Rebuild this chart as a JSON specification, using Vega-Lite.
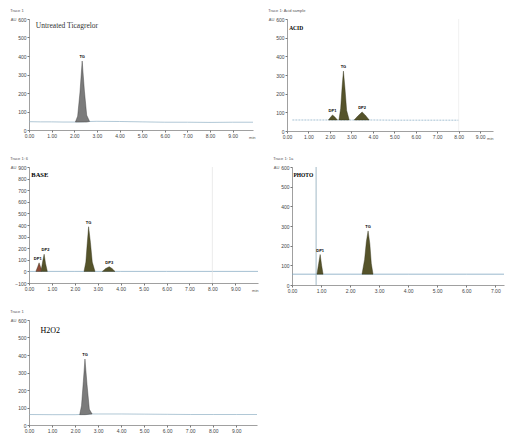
{
  "$schema": "https://vega.github.io/schema/vega-lite/v6.json",
  "background": "white",
  "padding": {"left": 10, "top": 9, "right": 2, "bottom": 0},
  "spacing": 17,
  "config": {
    "view": {"stroke": null},
    "axis": {"labelFontSize": 5, "labelColor": "#444", "domainColor": "#777", "tickColor": "#777", "tickSize": 2, "labelPadding": 1, "titleFontSize": 4, "titleColor": "#555", "grid": false, "domainWidth": 0.7, "titleFontWeight": "normal", "labelFont": "Liberation Sans", "titleFont": "Liberation Sans", "labelOverlap": false, "labelFlush": false, "labelBound": false, "labelSeparation": 0},
    "axisX": {"titleAlign": "right", "titleBaseline": "top", "titleY": 5},
    "title": {"fontSize": 4, "anchor": "start", "color": "#555", "offset": 4, "font": "Liberation Sans", "fontWeight": "normal"}
  },
  "datasets": {
    "tr": [
      {"p": "A", "t": 0, "y": 45}, {"p": "A", "t": 0.5, "y": 44}, {"p": "A", "t": 1, "y": 44}, {"p": "A", "t": 1.5, "y": 43}, {"p": "A", "t": 2.05, "y": 43}, {"p": "A", "t": 2.68, "y": 46}, {"p": "A", "t": 3, "y": 47}, {"p": "A", "t": 4, "y": 46}, {"p": "A", "t": 5, "y": 44}, {"p": "A", "t": 6, "y": 42}, {"p": "A", "t": 7, "y": 42}, {"p": "A", "t": 8, "y": 41}, {"p": "A", "t": 9, "y": 42}, {"p": "A", "t": 9.9, "y": 42},
      {"p": "B", "t": 0.25, "y": 59}, {"p": "B", "t": 1, "y": 59}, {"p": "B", "t": 2, "y": 59}, {"p": "B", "t": 3, "y": 59}, {"p": "B", "t": 4, "y": 59}, {"p": "B", "t": 5, "y": 58}, {"p": "B", "t": 6, "y": 58}, {"p": "B", "t": 7, "y": 58}, {"p": "B", "t": 8, "y": 58},
      {"p": "C", "t": 0, "y": 0}, {"p": "C", "t": 2, "y": 0}, {"p": "C", "t": 4, "y": 0}, {"p": "C", "t": 6, "y": 0}, {"p": "C", "t": 8, "y": 0}, {"p": "C", "t": 9.99, "y": 0},
      {"p": "D", "t": 0, "y": 55}, {"p": "D", "t": 2, "y": 55}, {"p": "D", "t": 4, "y": 55}, {"p": "D", "t": 6, "y": 55}, {"p": "D", "t": 7.3, "y": 55},
      {"p": "E", "t": 0, "y": 60}, {"p": "E", "t": 1, "y": 59}, {"p": "E", "t": 2, "y": 59}, {"p": "E", "t": 2.74, "y": 63}, {"p": "E", "t": 3, "y": 63}, {"p": "E", "t": 4, "y": 63}, {"p": "E", "t": 5, "y": 62}, {"p": "E", "t": 6, "y": 61}, {"p": "E", "t": 7, "y": 60}, {"p": "E", "t": 8, "y": 60}, {"p": "E", "t": 9, "y": 60}, {"p": "E", "t": 9.9, "y": 60}
    ],
    "pk": [
      {"p": "A", "k": "TG", "t": 2.05, "y": 43, "b": 43}, {"p": "A", "k": "TG", "t": 2.15, "y": 75, "b": 43}, {"p": "A", "k": "TG", "t": 2.25, "y": 200, "b": 43}, {"p": "A", "k": "TG", "t": 2.35, "y": 373, "b": 43}, {"p": "A", "k": "TG", "t": 2.45, "y": 210, "b": 43}, {"p": "A", "k": "TG", "t": 2.55, "y": 80, "b": 43}, {"p": "A", "k": "TG", "t": 2.68, "y": 46, "b": 46},
      {"p": "B", "k": "DP1", "t": 1.93, "y": 59, "b": 59}, {"p": "B", "k": "DP1", "t": 2.02, "y": 72, "b": 59}, {"p": "B", "k": "DP1", "t": 2.12, "y": 86, "b": 59}, {"p": "B", "k": "DP1", "t": 2.22, "y": 76, "b": 59}, {"p": "B", "k": "DP1", "t": 2.35, "y": 59, "b": 59},
      {"p": "B", "k": "TG", "t": 2.42, "y": 59, "b": 59}, {"p": "B", "k": "TG", "t": 2.5, "y": 120, "b": 59}, {"p": "B", "k": "TG", "t": 2.57, "y": 240, "b": 59}, {"p": "B", "k": "TG", "t": 2.63, "y": 321, "b": 59}, {"p": "B", "k": "TG", "t": 2.7, "y": 230, "b": 59}, {"p": "B", "k": "TG", "t": 2.78, "y": 110, "b": 59}, {"p": "B", "k": "TG", "t": 2.9, "y": 59, "b": 59},
      {"p": "B", "k": "DP2", "t": 3.13, "y": 59, "b": 59}, {"p": "B", "k": "DP2", "t": 3.3, "y": 80, "b": 59}, {"p": "B", "k": "DP2", "t": 3.5, "y": 102, "b": 59}, {"p": "B", "k": "DP2", "t": 3.65, "y": 85, "b": 59}, {"p": "B", "k": "DP2", "t": 3.83, "y": 59, "b": 59},
      {"p": "C", "k": "DP1", "t": 0.3, "y": 0, "b": 0}, {"p": "C", "k": "DP1", "t": 0.38, "y": 40, "b": 0}, {"p": "C", "k": "DP1", "t": 0.44, "y": 74, "b": 0}, {"p": "C", "k": "DP1", "t": 0.5, "y": 40, "b": 0}, {"p": "C", "k": "DP1", "t": 0.54, "y": 20, "b": 0},
      {"p": "C", "k": "DP2", "t": 0.54, "y": 20, "b": 0}, {"p": "C", "k": "DP2", "t": 0.6, "y": 90, "b": 0}, {"p": "C", "k": "DP2", "t": 0.66, "y": 148, "b": 0}, {"p": "C", "k": "DP2", "t": 0.72, "y": 70, "b": 0}, {"p": "C", "k": "DP2", "t": 0.8, "y": 0, "b": 0},
      {"p": "C", "k": "TG", "t": 2.4, "y": 0, "b": 0}, {"p": "C", "k": "TG", "t": 2.48, "y": 80, "b": 0}, {"p": "C", "k": "TG", "t": 2.54, "y": 240, "b": 0}, {"p": "C", "k": "TG", "t": 2.6, "y": 385, "b": 0}, {"p": "C", "k": "TG", "t": 2.68, "y": 250, "b": 0}, {"p": "C", "k": "TG", "t": 2.76, "y": 80, "b": 0}, {"p": "C", "k": "TG", "t": 2.88, "y": 0, "b": 0},
      {"p": "C", "k": "DP3", "t": 3.2, "y": 0, "b": 0}, {"p": "C", "k": "DP3", "t": 3.35, "y": 25, "b": 0}, {"p": "C", "k": "DP3", "t": 3.5, "y": 41, "b": 0}, {"p": "C", "k": "DP3", "t": 3.62, "y": 25, "b": 0}, {"p": "C", "k": "DP3", "t": 3.75, "y": 0, "b": 0},
      {"p": "D", "k": "DP1", "t": 0.86, "y": 55, "b": 55}, {"p": "D", "k": "DP1", "t": 0.92, "y": 110, "b": 55}, {"p": "D", "k": "DP1", "t": 0.97, "y": 155, "b": 55}, {"p": "D", "k": "DP1", "t": 1.02, "y": 100, "b": 55}, {"p": "D", "k": "DP1", "t": 1.07, "y": 55, "b": 55},
      {"p": "D", "k": "TG", "t": 2.41, "y": 55, "b": 55}, {"p": "D", "k": "TG", "t": 2.5, "y": 130, "b": 55}, {"p": "D", "k": "TG", "t": 2.56, "y": 220, "b": 55}, {"p": "D", "k": "TG", "t": 2.62, "y": 275, "b": 55}, {"p": "D", "k": "TG", "t": 2.68, "y": 210, "b": 55}, {"p": "D", "k": "TG", "t": 2.73, "y": 110, "b": 55}, {"p": "D", "k": "TG", "t": 2.79, "y": 55, "b": 55},
      {"p": "E", "k": "TG", "t": 2.2, "y": 59, "b": 59}, {"p": "E", "k": "TG", "t": 2.28, "y": 110, "b": 59}, {"p": "E", "k": "TG", "t": 2.36, "y": 250, "b": 59}, {"p": "E", "k": "TG", "t": 2.43, "y": 377, "b": 59}, {"p": "E", "k": "TG", "t": 2.52, "y": 230, "b": 60}, {"p": "E", "k": "TG", "t": 2.62, "y": 90, "b": 62}, {"p": "E", "k": "TG", "t": 2.74, "y": 63, "b": 63}
    ],
    "lb": [
      {"p": "A", "k": "TG", "t": 2.35, "y": 373},
      {"p": "B", "k": "DP1", "t": 2.12, "y": 86}, {"p": "B", "k": "TG", "t": 2.63, "y": 321}, {"p": "B", "k": "DP2", "t": 3.5, "y": 102},
      {"p": "C", "k": "DP1", "t": 0.38, "y": 74}, {"p": "C", "k": "DP2", "t": 0.72, "y": 148}, {"p": "C", "k": "TG", "t": 2.6, "y": 385}, {"p": "C", "k": "DP3", "t": 3.5, "y": 41},
      {"p": "D", "k": "DP1", "t": 0.97, "y": 155}, {"p": "D", "k": "TG", "t": 2.62, "y": 275},
      {"p": "E", "k": "TG", "t": 2.43, "y": 377}
    ],
    "nm": [
      {"p": "A", "name": "Untreated Ticagrelor", "t": 0.3, "y": 585},
      {"p": "B", "name": "ACID", "t": 0.1, "y": 560},
      {"p": "C", "name": "BASE", "t": 0.1, "y": 860},
      {"p": "D", "name": "PHOTO", "t": 0.05, "y": 570},
      {"p": "E", "name": "H2O2", "t": 0.5, "y": 560}
    ],
    "vl": [
      {"p": "B", "t": 8.0}, {"p": "C", "t": 8.0}, {"p": "D", "t": 0.83}
    ]
  },
  "vconcat": [
    {
      "spacing": 13,
      "hconcat": [
        {
          "width": 224, "height": 111,
          "title": "Trace 1",
          "layer": [
            {"data": {"name": "tr"}, "transform": [{"filter": "datum.p == 'A'"}], "mark": {"type": "line", "color": "#8fb0c4", "strokeWidth": 0.7},
             "encoding": {
               "x": {"field": "t", "type": "quantitative", "scale": {"domain": [0, 9.9], "nice": false}, "axis": {"tickCount": 10, "format": ".2f", "labelOverlap": false, "title": "min", "titleX": 226}},
               "y": {"field": "y", "type": "quantitative", "scale": {"domain": [0, 600], "nice": false}, "axis": {"tickCount": 6, "labelOverlap": false, "title": "AU", "titleAngle": 0, "titleX": -16, "titleY": 2}}
             }},
            {"data": {"name": "pk"}, "transform": [{"filter": "datum.p == 'A'"}], "mark": {"type": "area", "color": "#7b7b7b", "stroke": "#333", "strokeWidth": 0.4},
             "encoding": {"x": {"field": "t", "type": "quantitative"}, "y": {"field": "y", "type": "quantitative"}, "y2": {"field": "b"}, "detail": {"field": "k"}}},
            {"data": {"name": "lb"}, "transform": [{"filter": "datum.p == 'A'"}], "mark": {"type": "text", "fontSize": 4, "fontWeight": "bold", "dy": -4, "font": "Liberation Sans"},
             "encoding": {"x": {"field": "t", "type": "quantitative"}, "y": {"field": "y", "type": "quantitative"}, "text": {"field": "k"}}},
            {"data": {"name": "nm"}, "transform": [{"filter": "datum.p == 'A'"}], "mark": {"type": "text", "fontSize": 7.5, "font": "Liberation Serif", "align": "left", "baseline": "top", "color": "#333"},
             "encoding": {"x": {"field": "t", "type": "quantitative"}, "y": {"field": "y", "type": "quantitative"}, "text": {"field": "name"}}}
          ]
        },
        {
          "width": 206, "height": 112,
          "title": "Trace 1: Acid sample",
          "layer": [
            {"data": {"name": "tr"}, "transform": [{"filter": "datum.p == 'B'"}], "mark": {"type": "line", "color": "#7fa6c0", "strokeWidth": 0.7, "strokeDash": [2, 1]},
             "encoding": {
               "x": {"field": "t", "type": "quantitative", "scale": {"domain": [0, 9.6], "nice": false}, "axis": {"tickCount": 10, "format": ".2f", "labelOverlap": false, "title": "min", "titleX": 206}},
               "y": {"field": "y", "type": "quantitative", "scale": {"domain": [0, 600], "nice": false}, "axis": {"tickCount": 6, "labelOverlap": false, "title": "AU", "titleAngle": 0, "titleX": -16, "titleY": 2}}
             }},
            {"data": {"name": "vl"}, "transform": [{"filter": "datum.p == 'B'"}], "mark": {"type": "rule", "color": "#e8e8e8", "strokeWidth": 0.6},
             "encoding": {"x": {"field": "t", "type": "quantitative"}}},
            {"data": {"name": "pk"}, "transform": [{"filter": "datum.p == 'B'"}], "mark": {"type": "area", "color": "#55532a", "stroke": "#2e2d15", "strokeWidth": 0.4},
             "encoding": {"x": {"field": "t", "type": "quantitative"}, "y": {"field": "y", "type": "quantitative"}, "y2": {"field": "b"}, "detail": {"field": "k"}}},
            {"data": {"name": "lb"}, "transform": [{"filter": "datum.p == 'B'"}], "mark": {"type": "text", "fontSize": 4, "fontWeight": "bold", "dy": -4, "font": "Liberation Sans"},
             "encoding": {"x": {"field": "t", "type": "quantitative"}, "y": {"field": "y", "type": "quantitative"}, "text": {"field": "k"}}},
            {"data": {"name": "nm"}, "transform": [{"filter": "datum.p == 'B'"}], "mark": {"type": "text", "fontSize": 5.5, "fontWeight": "bold", "font": "Liberation Serif", "align": "left", "baseline": "top"},
             "encoding": {"x": {"field": "t", "type": "quantitative"}, "y": {"field": "y", "type": "quantitative"}, "text": {"field": "name"}}}
          ]
        }
      ]
    },
    {
      "spacing": 13,
      "hconcat": [
        {
          "width": 229, "height": 116,
          "title": "Trace 1: 6",
          "layer": [
            {"data": {"name": "tr"}, "transform": [{"filter": "datum.p == 'C'"}], "mark": {"type": "line", "color": "#7fa6c0", "strokeWidth": 0.7},
             "encoding": {
               "x": {"field": "t", "type": "quantitative", "scale": {"domain": [0, 9.99], "nice": false}, "axis": {"tickCount": 10, "format": ".2f", "labelOverlap": false, "title": "min", "titleX": 229}},
               "y": {"field": "y", "type": "quantitative", "scale": {"domain": [-100, 900], "nice": false}, "axis": {"tickCount": 10, "labelOverlap": false, "title": "AU", "titleAngle": 0, "titleX": -16, "titleY": 2}}
             }},
            {"data": {"name": "vl"}, "transform": [{"filter": "datum.p == 'C'"}], "mark": {"type": "rule", "color": "#dddddd", "strokeWidth": 0.6},
             "encoding": {"x": {"field": "t", "type": "quantitative"}}},
            {"data": {"name": "pk"}, "transform": [{"filter": "datum.p == 'C'"}], "mark": {"type": "area", "stroke": "#2e2d15", "strokeWidth": 0.4, "opacity": 1},
             "encoding": {"x": {"field": "t", "type": "quantitative"}, "y": {"field": "y", "type": "quantitative"}, "y2": {"field": "b"}, "detail": {"field": "k"},
               "color": {"field": "k", "type": "nominal", "scale": {"domain": ["DP1", "DP2", "TG", "DP3"], "range": ["#8d4a36", "#55532a", "#55532a", "#55532a"]}, "legend": null}}},
            {"data": {"name": "lb"}, "transform": [{"filter": "datum.p == 'C'"}], "mark": {"type": "text", "fontSize": 4, "fontWeight": "bold", "dy": -4, "font": "Liberation Sans"},
             "encoding": {"x": {"field": "t", "type": "quantitative"}, "y": {"field": "y", "type": "quantitative"}, "text": {"field": "k"}}},
            {"data": {"name": "nm"}, "transform": [{"filter": "datum.p == 'C'"}], "mark": {"type": "text", "fontSize": 6.5, "fontWeight": "bold", "font": "Liberation Serif", "align": "left", "baseline": "top"},
             "encoding": {"x": {"field": "t", "type": "quantitative"}, "y": {"field": "y", "type": "quantitative"}, "text": {"field": "name"}}}
          ]
        },
        {
          "width": 212, "height": 118,
          "title": "Trace 1: 1a",
          "layer": [
            {"data": {"name": "tr"}, "transform": [{"filter": "datum.p == 'D'"}], "mark": {"type": "line", "color": "#7fa6c0", "strokeWidth": 0.8},
             "encoding": {
               "x": {"field": "t", "type": "quantitative", "scale": {"domain": [0, 7.3], "nice": false}, "axis": {"tickCount": 8, "format": ".2f", "labelOverlap": false, "title": null}},
               "y": {"field": "y", "type": "quantitative", "scale": {"domain": [0, 600], "nice": false}, "axis": {"tickCount": 6, "labelOverlap": false, "title": "AU", "titleAngle": 0, "titleX": -16, "titleY": 2}}
             }},
            {"data": {"name": "vl"}, "transform": [{"filter": "datum.p == 'D'"}], "mark": {"type": "rule", "color": "#8aa7b8", "strokeWidth": 0.8},
             "encoding": {"x": {"field": "t", "type": "quantitative"}}},
            {"data": {"name": "pk"}, "transform": [{"filter": "datum.p == 'D'"}], "mark": {"type": "area", "color": "#55532a", "stroke": "#2e2d15", "strokeWidth": 0.4},
             "encoding": {"x": {"field": "t", "type": "quantitative"}, "y": {"field": "y", "type": "quantitative"}, "y2": {"field": "b"}, "detail": {"field": "k"}}},
            {"data": {"name": "lb"}, "transform": [{"filter": "datum.p == 'D'"}], "mark": {"type": "text", "fontSize": 4, "fontWeight": "bold", "dy": -4, "font": "Liberation Sans"},
             "encoding": {"x": {"field": "t", "type": "quantitative"}, "y": {"field": "y", "type": "quantitative"}, "text": {"field": "k"}}},
            {"data": {"name": "nm"}, "transform": [{"filter": "datum.p == 'D'"}], "mark": {"type": "text", "fontSize": 5.5, "fontWeight": "bold", "font": "Liberation Serif", "align": "left", "baseline": "top"},
             "encoding": {"x": {"field": "t", "type": "quantitative"}, "y": {"field": "y", "type": "quantitative"}, "text": {"field": "name"}}}
          ]
        }
      ]
    },
    {
      "width": 228, "height": 105,
      "title": "Trace 1",
      "layer": [
        {"data": {"name": "tr"}, "transform": [{"filter": "datum.p == 'E'"}], "mark": {"type": "line", "color": "#8fb0c4", "strokeWidth": 0.7},
         "encoding": {
           "x": {"field": "t", "type": "quantitative", "scale": {"domain": [0, 9.9], "nice": false}, "axis": {"tickCount": 10, "format": ".2f", "labelOverlap": false, "title": null}},
           "y": {"field": "y", "type": "quantitative", "scale": {"domain": [0, 600], "nice": false}, "axis": {"tickCount": 6, "labelOverlap": false, "title": "AU", "titleAngle": 0, "titleX": -16, "titleY": 2}}
         }},
        {"data": {"name": "pk"}, "transform": [{"filter": "datum.p == 'E'"}], "mark": {"type": "area", "color": "#7b7b7b", "stroke": "#333", "strokeWidth": 0.4},
         "encoding": {"x": {"field": "t", "type": "quantitative"}, "y": {"field": "y", "type": "quantitative"}, "y2": {"field": "b"}, "detail": {"field": "k"}}},
        {"data": {"name": "lb"}, "transform": [{"filter": "datum.p == 'E'"}], "mark": {"type": "text", "fontSize": 4, "fontWeight": "bold", "dy": -4, "font": "Liberation Sans"},
         "encoding": {"x": {"field": "t", "type": "quantitative"}, "y": {"field": "y", "type": "quantitative"}, "text": {"field": "k"}}},
        {"data": {"name": "nm"}, "transform": [{"filter": "datum.p == 'E'"}], "mark": {"type": "text", "fontSize": 8, "font": "Liberation Serif", "align": "left", "baseline": "top"},
         "encoding": {"x": {"field": "t", "type": "quantitative"}, "y": {"field": "y", "type": "quantitative"}, "text": {"field": "name"}}}
      ]
    }
  ]
}
